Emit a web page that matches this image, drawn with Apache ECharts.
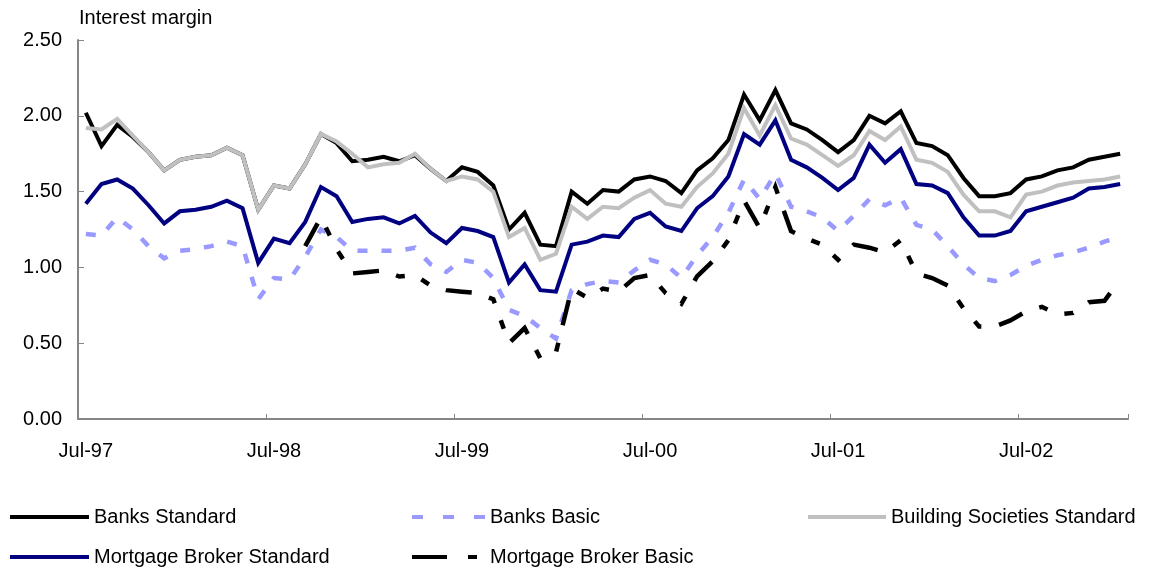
<!DOCTYPE html>
<html>
<head>
<meta charset="utf-8">
<script src="https://cdn.jsdelivr.net/npm/echarts@6/dist/echarts.min.js"></script>
<style>
  html, body { margin: 0; padding: 0; background: #ffffff; }
  #chart { width: 1158px; height: 575px; }
</style>
</head>
<body>
<div id="chart"></div>
<script>
// Monthly observations, July 1997 to January 2003
const categories = [
  'Jul-97','Aug-97','Sep-97','Oct-97','Nov-97','Dec-97',
  'Jan-98','Feb-98','Mar-98','Apr-98','May-98','Jun-98',
  'Jul-98','Aug-98','Sep-98','Oct-98','Nov-98','Dec-98',
  'Jan-99','Feb-99','Mar-99','Apr-99','May-99','Jun-99',
  'Jul-99','Aug-99','Sep-99','Oct-99','Nov-99','Dec-99',
  'Jan-00','Feb-00','Mar-00','Apr-00','May-00','Jun-00',
  'Jul-00','Aug-00','Sep-00','Oct-00','Nov-00','Dec-00',
  'Jan-01','Feb-01','Mar-01','Apr-01','May-01','Jun-01',
  'Jul-01','Aug-01','Sep-01','Oct-01','Nov-01','Dec-01',
  'Jan-02','Feb-02','Mar-02','Apr-02','May-02','Jun-02',
  'Jul-02','Aug-02','Sep-02','Oct-02','Nov-02','Dec-02',
  'Jan-03'
];

const banksStandard = [
  2.02, 1.80, 1.94, 1.86, 1.76, 1.64, 1.71, 1.73, 1.74, 1.79, 1.74, 1.38,
  1.54, 1.52, 1.68, 1.88, 1.82, 1.70, 1.71, 1.73, 1.70, 1.74, 1.65, 1.57,
  1.66, 1.63, 1.54, 1.25, 1.36, 1.15, 1.14, 1.50, 1.42, 1.51, 1.50, 1.58,
  1.60, 1.57, 1.49, 1.64, 1.72, 1.84, 2.14, 1.97, 2.17, 1.95, 1.91, 1.84,
  1.76, 1.84, 2.00, 1.95, 2.03, 1.82, 1.80, 1.74, 1.59, 1.47, 1.47, 1.49,
  1.58, 1.60, 1.64, 1.66, 1.71, 1.73, 1.75
];

const banksBasic = [
  1.22, 1.21, 1.33, 1.25, 1.14, 1.06, 1.11, 1.12, 1.14, 1.17, 1.14, 0.79,
  0.93, 0.92, 1.07, 1.25, 1.20, 1.11, 1.11, 1.11, 1.11, 1.13, 1.02, 0.97,
  1.05, 1.03, 0.93, 0.72, 0.68, 0.60, 0.53, 0.85, 0.89, 0.91, 0.90, 0.98,
  1.05, 1.02, 0.93, 1.08, 1.20, 1.36, 1.58, 1.45, 1.62, 1.40, 1.37, 1.33,
  1.24, 1.34, 1.45, 1.41, 1.46, 1.28, 1.25, 1.14, 1.02, 0.93, 0.91, 0.95,
  1.01, 1.05, 1.08, 1.10, 1.13, 1.17, 1.20
];

const buildingSocietiesStandard = [
  1.92, 1.91, 1.98, 1.87, 1.76, 1.64, 1.71, 1.73, 1.74, 1.79, 1.74, 1.38,
  1.54, 1.52, 1.68, 1.88, 1.83, 1.75, 1.66, 1.68, 1.69, 1.75, 1.65, 1.57,
  1.60, 1.58, 1.50, 1.20, 1.26, 1.05, 1.09, 1.40, 1.32, 1.40, 1.39, 1.46,
  1.51, 1.42, 1.40, 1.53, 1.62, 1.75, 2.05, 1.87, 2.07, 1.85, 1.81, 1.74,
  1.67, 1.74, 1.90, 1.84, 1.93, 1.71, 1.69, 1.63, 1.48, 1.37, 1.37, 1.33,
  1.48, 1.50, 1.54, 1.56, 1.57, 1.58, 1.60
];

const mortgageBrokerStandard = [
  1.42, 1.55, 1.58, 1.52, 1.41, 1.29, 1.37, 1.38, 1.40, 1.44, 1.39, 1.03,
  1.19, 1.16, 1.30, 1.53, 1.47, 1.30, 1.32, 1.33, 1.29, 1.34, 1.23, 1.16,
  1.26, 1.24, 1.20, 0.90, 1.02, 0.85, 0.84, 1.15, 1.17, 1.21, 1.20, 1.32,
  1.36, 1.27, 1.24, 1.39, 1.47, 1.60, 1.88, 1.81, 1.97, 1.71, 1.66, 1.59,
  1.51, 1.59, 1.81, 1.69, 1.78, 1.55, 1.54, 1.49, 1.33, 1.21, 1.21, 1.24,
  1.37, 1.40, 1.43, 1.46, 1.52, 1.53, 1.55
];

// Series begins in September 1998
const mortgageBrokerBasic = [
  null, null, null, null, null, null, null, null, null, null, null, null,
  null, null, 1.14, 1.33, 1.12, 0.96, 0.97, 0.98, 0.94, 0.95, 0.88, 0.85,
  0.84, 0.83, 0.79, 0.50, 0.60, 0.40, 0.44, 0.86, 0.80, 0.86, 0.84, 0.93,
  0.95, 0.83, 0.76, 0.94, 1.04, 1.18, 1.44, 1.26, 1.53, 1.24, 1.19, 1.15,
  1.05, 1.15, 1.13, 1.10, 1.18, 0.96, 0.93, 0.88, 0.73, 0.61, 0.61, 0.65,
  0.71, 0.74, 0.69, 0.70, 0.77, 0.78, 0.92
];

const FONT = '"Liberation Sans", Arial, sans-serif';
const AXIS_GREY = '#868686';

function lineSeries(name, data, color, type, width, z) {
  return {
    name: name,
    type: 'line',
    data: data,
    symbol: 'none',
    showSymbol: false,
    z: z,
    lineStyle: { color: color, width: width, type: type, cap: 'butt', join: 'miter' },
    itemStyle: { color: color },
    emphasis: { disabled: true }
  };
}

// One legend block per entry so each can sit in its own column
function legendItem(name, left, top, width, dash) {
  return {
    data: [name],
    left: left,
    top: top,
    padding: 0,
    itemWidth: width,
    itemHeight: 14,
    selectedMode: false,
    textStyle: { fontFamily: FONT, fontSize: 20, color: '#000' },
    itemStyle: { opacity: 0, borderWidth: 0 },
    lineStyle: { width: 4, type: dash || 'solid', cap: 'butt', opacity: 1 }
  };
}

const chart = echarts.init(document.getElementById('chart'), null, { renderer: 'canvas' });

chart.setOption({
  animation: false,
  backgroundColor: '#ffffff',
  title: {
    text: 'Interest margin',
    left: 79,
    top: 8,
    padding: 0,
    textStyle: { fontFamily: FONT, fontSize: 20, fontWeight: 'normal', color: '#000' }
  },
  grid: { left: 78, right: 30, top: 40, bottom: 156, containLabel: false },
  xAxis: {
    type: 'category',
    data: categories,
    boundaryGap: true,
    axisLine: { lineStyle: { color: AXIS_GREY, width: 2 } },
    axisTick: { show: true, inside: true, length: 5, interval: 11, lineStyle: { color: AXIS_GREY, width: 1 } },
    axisLabel: {
      interval: 11,
      margin: 22,
      fontFamily: FONT,
      fontSize: 20,
      color: '#000'
    },
    splitLine: { show: false }
  },
  yAxis: {
    type: 'value',
    min: 0,
    max: 2.5,
    interval: 0.5,
    axisLine: { show: true, lineStyle: { color: AXIS_GREY, width: 2 } },
    axisTick: { show: true, inside: true, length: 6, lineStyle: { color: AXIS_GREY, width: 1 } },
    axisLabel: {
      margin: 16,
      fontFamily: FONT,
      fontSize: 20,
      color: '#000',
      formatter: function (v) { return v.toFixed(2); }
    },
    splitLine: { show: false }
  },
  legend: [
    legendItem('Banks Standard', 8, 507, 79),
    legendItem('Banks Basic', 410, 507, 73, [11, 20]),
    legendItem('Building Societies Standard', 806, 507, 78),
    legendItem('Mortgage Broker Standard', 8, 547, 79),
    legendItem('Mortgage Broker Basic', 410, 547, 73, [35, 21, 9, 20])
  ],
  series: [
    lineSeries('Banks Standard', banksStandard, '#000000', 'solid', 4, 2),
    lineSeries('Banks Basic', banksBasic, '#9999ff', [10, 14], 4.5, 3),
    lineSeries('Building Societies Standard', buildingSocietiesStandard, '#c0c0c0', 'solid', 4, 4),
    lineSeries('Mortgage Broker Standard', mortgageBrokerStandard, '#000080', 'solid', 4, 5),
    lineSeries('Mortgage Broker Basic', mortgageBrokerBasic, '#000000', [26, 18, 9, 18, 9, 18], 4.5, 6)
  ]
});
</script>
</body>
</html>
